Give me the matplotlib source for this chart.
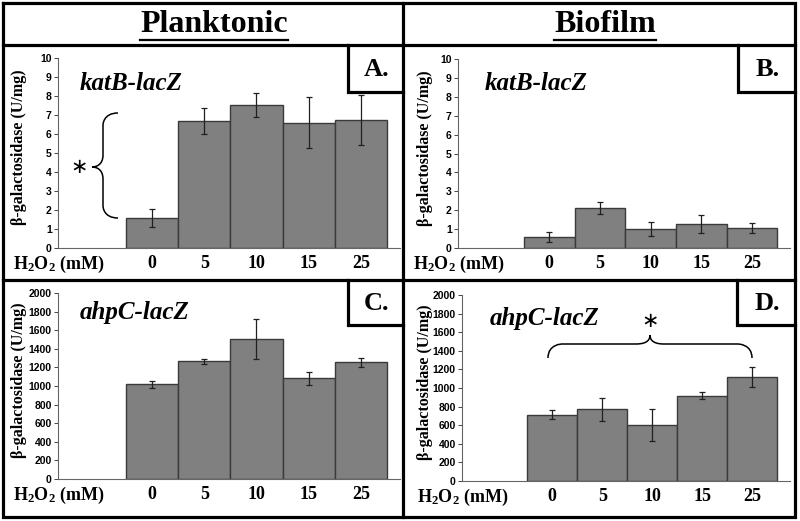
import matplotlib
matplotlib.use("Agg")
import matplotlib.pyplot as plt
from matplotlib.path import Path
from matplotlib.patches import PathPatch

plt.rcParams['mathtext.default'] = 'regular'

# data
conc_labels = ['0', '5', '10', '15', '25']

plank_katb = [1.58, 6.70, 7.53, 6.60, 6.72]
plank_katb_err = [0.48, 0.69, 0.61, 1.36, 1.32]

bio_katb = [0.58, 2.11, 1.00, 1.29, 1.06]
bio_katb_err = [0.25, 0.31, 0.37, 0.48, 0.27]

plank_ahpc = [1020, 1268, 1505, 1081, 1257]
plank_ahpc_err = [37, 27, 217, 66, 48]

bio_ahpc = [715, 772, 600, 919, 1120]
bio_ahpc_err = [47, 125, 169, 35, 108]

W, H = 800, 521
fig = plt.figure(figsize=(W / 100, H / 100), dpi=100)
fig.patch.set_facecolor('white')

SERIF = 'Liberation Serif'
SANS = 'Liberation Sans'


def px_rect(l, t, r, b):
    return [l / W, 1 - b / H, (r - l) / W, (b - t) / H]


def panel(rect, vals, errs, ymax, step, gene, gene_xy, label_x, ov):
    ax = fig.add_axes(px_rect(*rect))
    x = range(len(vals))
    ax.bar(x, vals, width=1.0, color='#808080', edgecolor='#3a3a3a',
           linewidth=1.0, zorder=2)
    ax.errorbar(x, vals, yerr=errs, fmt='none', ecolor='#202020',
                elinewidth=0.9, capsize=2.2, capthick=0.9, zorder=3)
    ax.set_xlim(-1.8, 4.75)
    ax.set_ylim(0, ymax)
    yt = list(range(0, ymax + 1, step))
    ax.set_yticks(yt)
    ax.set_yticklabels([str(v) for v in yt], fontfamily=SANS,
                       fontweight='bold', fontsize=7.5)
    ax.set_xticks(list(x))
    ax.set_xticklabels(conc_labels, fontfamily=SERIF, fontweight='bold',
                       fontsize=13)
    ax.tick_params(axis='x', length=0, pad=5)
    ax.tick_params(axis='y', length=3, width=0.7, pad=1.5, color='#444444')
    for s in ('top', 'right'):
        ax.spines[s].set_visible(False)
    for s in ('left', 'bottom'):
        ax.spines[s].set_color('#666666')
        ax.spines[s].set_linewidth(0.8)
    ax.patch.set_alpha(0)
    ax.set_ylabel('β-galactosidase (U/mg)', fontfamily=SERIF,
                  fontweight='bold', fontsize=11.5)
    ax.yaxis.label.set_va('center')
    ax.yaxis.set_label_coords(-(rect[0] - label_x) / (rect[2] - rect[0]), 0.53)
    ov.text(gene_xy[0], gene_xy[1], gene, fontfamily=SERIF, fontweight='bold',
            fontstyle='italic', fontsize=18, ha='left', va='center')
    ov.text(rect[0] - 45, rect[3] + 21, 'H$_2$O$_2$ (mM)', fontfamily=SERIF,
            fontweight='bold', fontsize=13, ha='left', va='baseline')
    return ax


ov = fig.add_axes([0, 0, 1, 1], zorder=5)
ov.set_xlim(0, W)
ov.set_ylim(H, 0)
ov.axis('off')
ov.patch.set_visible(False)

panel((58, 58, 400, 248), plank_katb, plank_katb_err, 10, 1,
      'katB-lacZ', (80, 84), 19, ov)
panel((458, 59, 790, 248), bio_katb, bio_katb_err, 10, 1,
      'katB-lacZ', (485, 83), 425, ov)
panel((58, 293, 400, 479), plank_ahpc, plank_ahpc_err, 2000, 200,
      'ahpC-lacZ', (80, 312), 19, ov)
panel((462, 295, 790, 481), bio_ahpc, bio_ahpc_err, 2000, 200,
      'ahpC-lacZ', (490, 319), 425, ov)

# frame
lw = 2.3
ov.plot([3, 795, 795, 3, 3], [3, 3, 517, 517, 3], color='black', lw=lw,
        solid_joinstyle='miter')
ov.plot([3, 795], [45, 45], color='black', lw=lw)
ov.plot([3, 795], [280, 280], color='black', lw=lw)
ov.plot([403, 403], [3, 517], color='black', lw=lw)

# panel letter boxes
for lx, rx, top, bot, letter in [(348, 403, 45, 92, 'A.'), (738, 795, 45, 92, 'B.'),
                                 (348, 403, 280, 325, 'C.'), (737, 795, 280, 325, 'D.')]:
    ov.plot([lx, lx, rx], [top, bot, bot], color='black', lw=lw,
            solid_joinstyle='miter')
    ov.text((lx + rx) / 2 + 1, (top + bot) / 2 + 1, letter, fontfamily=SERIF,
            fontweight='bold', fontsize=19, ha='center', va='center')

# headers
for cx, title in [(214, 'Planktonic'), (605, 'Biofilm')]:
    t = ov.text(cx, 24, title, fontfamily=SERIF, fontweight='bold',
                fontsize=23, ha='center', va='center')
    fig.canvas.draw()
    bb = t.get_window_extent()
    ov.plot([bb.x0, bb.x1], [40, 40], color='black', lw=1.6)

# brace in A (vertical, pointing left)
tip_x, spine_x, pt_x = 118, 103, 92
y_top, y_mid, y_bot = 113, 167, 218
r = 12
verts = [(tip_x, y_top), (spine_x, y_top), (spine_x, y_top + r), (spine_x, y_top + r),
         (spine_x, y_mid - r),
         (spine_x, y_mid - 2), (pt_x + 4, y_mid), (pt_x, y_mid),
         (pt_x + 4, y_mid), (spine_x, y_mid + 2), (spine_x, y_mid + r),
         (spine_x, y_bot - r),
         (spine_x, y_bot - r), (spine_x, y_bot), (tip_x, y_bot)]
codes = [Path.MOVETO, Path.CURVE4, Path.CURVE4, Path.CURVE4,
         Path.LINETO,
         Path.CURVE4, Path.CURVE4, Path.CURVE4,
         Path.CURVE4, Path.CURVE4, Path.CURVE4,
         Path.LINETO,
         Path.CURVE4, Path.CURVE4, Path.CURVE4]
ov.add_patch(PathPatch(Path(verts, codes), fill=False, lw=1.1, color='black'))
ov.text(79, 167, '∗', fontfamily='DejaVu Sans', fontsize=15, ha='center',
        va='center')

# brace in D (horizontal, pointing up)
tx0, tx1, ty, sy, py, px = 548, 752, 358, 344, 335, 650
r = 14
verts = [(tx0, ty), (tx0, sy), (tx0 + r, sy), (tx0 + r, sy),
         (px - r, sy),
         (px - 2, sy), (px, py + 4), (px, py),
         (px, py + 4), (px + 2, sy), (px + r, sy),
         (tx1 - r, sy),
         (tx1 - r, sy), (tx1, sy), (tx1, ty)]
ov.add_patch(PathPatch(Path(verts, codes), fill=False, lw=1.1, color='black'))
ov.text(650, 321, '∗', fontfamily='DejaVu Sans', fontsize=15, ha='center',
        va='center')

fig.savefig('out.png', dpi=100, facecolor='white')
